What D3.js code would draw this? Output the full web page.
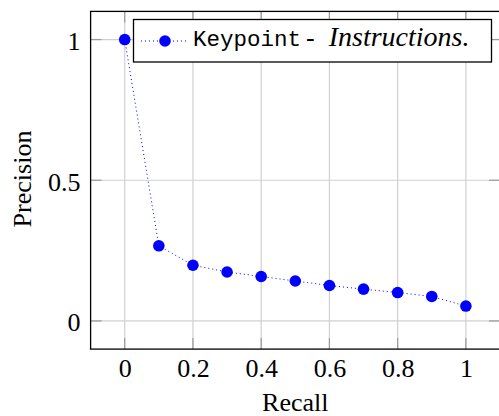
<!DOCTYPE html>
<html>
<head>
<meta charset="utf-8">
<script src="https://cdn.jsdelivr.net/npm/d3@7"></script>
<style>
  body { margin: 0; background: #fff; }
</style>
</head>
<body>
<div id="chart"></div>
<script>
// data
const recall = [0, 0.1, 0.2, 0.3, 0.4, 0.5, 0.6, 0.7, 0.8, 0.9, 1.0];
const precision = [1.0, 0.267, 0.198, 0.174, 0.158, 0.142, 0.126, 0.113, 0.101, 0.087, 0.053];
const xTicks = [0, 0.2, 0.4, 0.6, 0.8, 1];
const yTicks = [0, 0.5, 1];
const seriesName = "Keypoint";
const seriesNote = "Instructions.";

const SERIF = "Liberation Serif";
const MONO = "Liberation Mono";

const W = 499, H = 416;
const margin = {top: 11.4, right: -1, bottom: 66.9, left: 90.6};
const width = W - margin.left - margin.right;
const height = H - margin.top - margin.bottom;

const svg = d3.select("#chart").append("svg")
    .attr("width", W)
    .attr("height", H)
    .attr("font-family", SERIF);

const g = svg.append("g")
    .attr("transform", "translate(" + margin.left + "," + margin.top + ")");

const x = d3.scaleLinear().domain([-0.1, 1.1]).range([0, width]);
const y = d3.scaleLinear().domain([-0.1, 1.1]).range([height, 0]);

// grid
g.append("g").selectAll("line").data(xTicks).join("line")
    .attr("x1", d => x(d)).attr("x2", d => x(d))
    .attr("y1", 0).attr("y2", height)
    .attr("stroke", "#d0d0d0").attr("stroke-width", 1.2);
g.append("g").selectAll("line").data(yTicks).join("line")
    .attr("y1", d => y(d)).attr("y2", d => y(d))
    .attr("x1", 0).attr("x2", width)
    .attr("stroke", "#d0d0d0").attr("stroke-width", 1.2);

// inner ticks on all four sides
const tickLen = 11;
const ticks = g.append("g").attr("stroke", "#9a9a9a").attr("stroke-width", 1.2);
xTicks.forEach(d => {
  ticks.append("line").attr("x1", x(d)).attr("x2", x(d)).attr("y1", height).attr("y2", height - tickLen);
  ticks.append("line").attr("x1", x(d)).attr("x2", x(d)).attr("y1", 0).attr("y2", tickLen);
});
yTicks.forEach(d => {
  ticks.append("line").attr("y1", y(d)).attr("y2", y(d)).attr("x1", 0).attr("x2", tickLen);
  ticks.append("line").attr("y1", y(d)).attr("y2", y(d)).attr("x1", width).attr("x2", width - tickLen);
});

// axis labels via d3 axes, lines hidden
const fmt = d => d3.format("~g")(d);
const xAxis = g.append("g")
    .attr("transform", "translate(0," + height + ")")
    .call(d3.axisBottom(x).tickValues(xTicks).tickFormat(fmt).tickSize(0).tickPadding(10));
const yAxis = g.append("g")
    .call(d3.axisLeft(y).tickValues(yTicks).tickFormat(fmt).tickSize(0).tickPadding(10));
[xAxis, yAxis].forEach(a => {
  a.attr("font-family", SERIF).attr("font-size", 26);
  a.select(".domain").remove();
  a.selectAll("text").attr("fill", "#000");
});
xAxis.selectAll("text").attr("dy", "0.67em");
yAxis.selectAll("text").attr("dy", "0.38em");

// frame
g.append("rect")
    .attr("width", width).attr("height", height)
    .attr("fill", "none").attr("stroke", "#000").attr("stroke-width", 1.3);

// series
const data = recall.map((r, i) => ({r: r, p: precision[i]}));
g.append("path")
    .datum(data)
    .attr("fill", "none")
    .attr("stroke", "#0000ff")
    .attr("stroke-width", 1)
    .attr("stroke-dasharray", "1,3")
    .attr("d", d3.line().x(d => x(d.r)).y(d => y(d.p)));
g.append("g").selectAll("circle").data(data).join("circle")
    .attr("cx", d => x(d.r)).attr("cy", d => y(d.p))
    .attr("r", 5.8)
    .attr("fill", "#0000ff");

// axis titles
svg.append("text")
    .attr("x", margin.left + x(0.5))
    .attr("y", 411)
    .attr("text-anchor", "middle")
    .attr("font-family", SERIF)
    .attr("font-size", 26)
    .text("Recall");
svg.append("text")
    .attr("transform", "translate(31,179) rotate(-90)")
    .attr("text-anchor", "middle")
    .attr("font-family", SERIF)
    .attr("font-size", 26)
    .text("Precision");

// legend
const lg = svg.append("g");
lg.append("rect")
    .attr("x", 133.5).attr("y", 19.5)
    .attr("width", 358).attr("height", 42.5)
    .attr("fill", "#fff").attr("stroke", "#000").attr("stroke-width", 1.3);
lg.append("line")
    .attr("x1", 141).attr("x2", 187).attr("y1", 41).attr("y2", 41)
    .attr("stroke", "#0000ff").attr("stroke-width", 1).attr("stroke-dasharray", "1,3");
lg.append("circle").attr("cx", 165).attr("cy", 41).attr("r", 5.8).attr("fill", "#0000ff");
const lt = lg.append("text").attr("x", 193).attr("y", 46)
    .attr("font-family", SERIF)
    .attr("font-size", 26);
lt.append("tspan")
    .attr("font-family", MONO)
    .attr("font-size", 22.5)
    .text(seriesName);
lt.append("tspan").attr("dx", 5).text("-");
lt.append("tspan").attr("dx", 14).attr("font-style", "italic").attr("font-size", 28).text(seriesNote);
</script>
</body>
</html>
